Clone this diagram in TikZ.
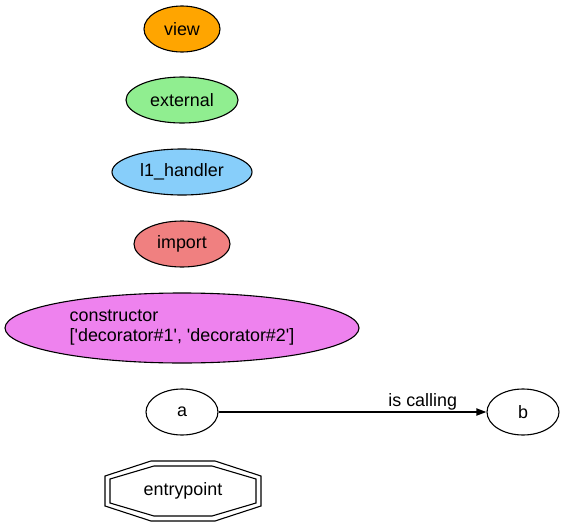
\documentclass[tikz,border=0pt]{standalone}
\usepackage{fontspec}
\setmainfont{Liberation Sans}[Ligatures=TeXOff]
\usetikzlibrary{shapes.geometric,arrows.meta,calc}
\definecolor{cview}{HTML}{FFA500}
\definecolor{cext}{HTML}{90EE90}
\definecolor{chand}{HTML}{87CEFA}
\definecolor{cimp}{HTML}{F08080}
\definecolor{ccons}{HTML}{EE82EE}
\begin{document}
\begin{tikzpicture}[x=1pt,y=-1pt,
  every node/.style={font=\fontsize{17.9}{20}\selectfont},
  ell/.style={draw=black,line width=1.1pt,ellipse,inner sep=0pt,minimum height=46pt},
  oct/.style={draw=black,line width=1.1pt},
  calls/.style={line width=1.8pt,-{Triangle[length=10pt,width=7pt]}}]
\useasboundingbox (0,0) rectangle (565,525);
\node[ell,fill=cview,minimum width=76pt] (view) at (182,29) {view};
\node[ell,fill=cext,minimum width=112pt] (external) at (182,100) {external};
\node[ell,fill=chand,minimum width=140pt] (handler) at (182,172) {l1\_handler};
\node[ell,fill=cimp,minimum width=96pt] (import) at (182,244) {import};
\node[ell,fill=ccons,minimum width=354pt,minimum height=70pt,align=left] (cons) at (182,328) {constructor\\{}['decorator\#1', 'decorator\#2']};
\node[ell,minimum width=72pt] (a) at (182,412) {a};
\node[ell,minimum width=72pt] (b) at (523,412) {b};
\coordinate (ep) at (183,491);
\draw[oct] ($(ep)+(-32,-30)$) -- ($(ep)+(32,-30)$) -- ($(ep)+(78,-15)$) -- ($(ep)+(78,15)$) -- ($(ep)+(32,30)$) -- ($(ep)+(-32,30)$) -- ($(ep)+(-78,15)$) -- ($(ep)+(-78,-15)$) -- cycle;
\draw[oct] ($(ep)+(-29,-25)$) -- ($(ep)+(29,-25)$) -- ($(ep)+(73,-12)$) -- ($(ep)+(73,12)$) -- ($(ep)+(29,25)$) -- ($(ep)+(-29,25)$) -- ($(ep)+(-73,12)$) -- ($(ep)+(-73,-12)$) -- cycle;
\node (entry) at (ep) {entrypoint};
\draw[calls] (a) -- node[pos=0.762,above=-2pt] (lbl) {is calling} (b);
\end{tikzpicture}
\end{document}
